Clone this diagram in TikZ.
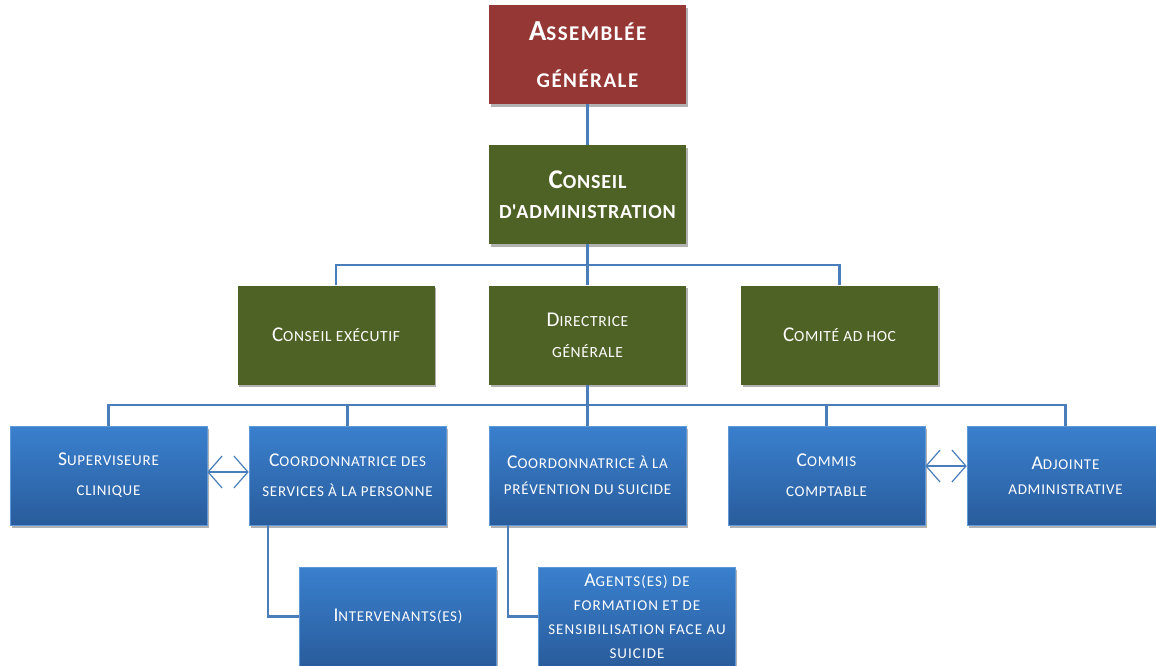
\documentclass[tikz,border=0pt]{standalone}
\usepackage{fontspec}
\setmainfont{Carlito}
\usetikzlibrary{shadows,arrows.meta}
\definecolor{redbox}{RGB}{149,55,53}
\definecolor{olivebox}{RGB}{79,98,37}
\definecolor{bluetop}{RGB}{58,128,206}
\definecolor{bluebot}{RGB}{41,92,156}
\definecolor{linkblue}{RGB}{74,126,187}
\newcommand\IniA[1]{{\fontsize{29}{29}\selectfont #1}}
\newcommand\IniAb[1]{{\fontsize{27}{27}\selectfont #1}}
\newcommand\IniB[1]{{\fontsize{21}{21}\selectfont #1}}
\newcommand\IniC[1]{{\fontsize{19.5}{19.5}\selectfont #1}}
\tikzset{
  box/.style={minimum width=197pt, minimum height=99pt, inner sep=0pt, align=center,
    text=white, drop shadow={shadow xshift=1.5pt, shadow yshift=-2.5pt, opacity=0.3, fill=black}},
  redb/.style={box, fill=redbox, font=\bfseries\fontsize{21}{47}\selectfont\addfontfeature{LetterSpace=7}},
  oliveb/.style={box, fill=olivebox, font=\bfseries\fontsize{20}{30}\selectfont\addfontfeature{LetterSpace=4}},
  oliveS/.style={box, fill=olivebox, font=\fontsize{15.5}{31}\selectfont\addfontfeature{LetterSpace=4}},
  blueb/.style={box, top color=bluetop, bottom color=bluebot, draw=bluetop!80!white, line width=0.6pt,
    font=\fontsize{15}{30}\selectfont\addfontfeature{LetterSpace=5}},
  link/.style={draw=linkblue, line width=2.2pt},
  dbl/.style={draw=linkblue, line width=1.4pt, {Straight Barb[length=14pt,width=32pt,line width=1.2pt]}-{Straight Barb[length=14pt,width=32pt,line width=1.2pt]}}
}
\begin{document}
\begin{tikzpicture}[x=1pt,y=-1pt]
\useasboundingbox[fill=white] (0,0) rectangle (1156,665);
% level 0 / 1
\node[redb] (asm) at (587.5,54.5) {\IniA{A}SSEMBLÉE\\GÉNÉRALE};
\node[oliveb] (ca) at (587.5,194.5) {\IniAb{C}ONSEIL\\D\textquotesingle ADMINISTRATION};
% level 2
\node[oliveS] (ce) at (336,335) {\IniB{C}ONSEIL EXÉCUTIF};
\node[oliveS] (dg) at (587.5,335) {\IniB{D}IRECTRICE\\GÉNÉRALE};
\node[oliveS] (cah) at (839.5,335) {\IniB{C}OMITÉ AD HOC};
% level 3
\node[blueb] (sup) at (108.5,475.5) {\IniC{S}UPERVISEURE\\CLINIQUE};
\node[blueb] (cs) at (347.5,475.5) {\IniC{C}OORDONNATRICE DES\\SERVICES À LA PERSONNE};
\node[blueb, font=\fontsize{15}{26}\selectfont\addfontfeature{LetterSpace=5}] (cp) at (587.5,475.5) {\IniC{C}OORDONNATRICE À LA\\PRÉVENTION DU SUICIDE};
\node[blueb] (cc) at (826.5,475.5) {\IniC{C}OMMIS\\COMPTABLE};
\node[blueb, font=\fontsize{15}{25}\selectfont\addfontfeature{LetterSpace=5}] (adj) at (1065.5,475.5) {\IniC{A}DJOINTE\\ADMINISTRATIVE};
% level 4
\node[blueb] (int) at (398,616.5) {\IniC{I}NTERVENANTS(ES)};
\node[blueb, font=\fontsize{15}{24}\selectfont\addfontfeature{LetterSpace=7}] (ag) at (637,616.5) {\IniC{A}GENTS(ES) DE\\FORMATION ET DE\\SENSIBILISATION FACE AU\\SUICIDE};
% connectors
\coordinate (b1) at (587.5,265);
\coordinate (b2) at (587.5,405);
\draw[link] (asm.south) -- (ca.north);
\draw[link] (ca.south) -- (dg.north);
\draw[link] (ce.north) |- (b1) -| (cah.north);
\draw[link] (dg.south) -- (cp.north);
\draw[link] (sup.north) |- (b2) -| (adj.north);
\draw[link] (cs.north) -- (cs.north |- b2);
\draw[link] (cc.north) -- (cc.north |- b2);
\draw[link] ([xshift=19pt]cs.south west) |- (int.west);
\draw[link] ([xshift=19pt]cp.south west) |- (ag.west);
\draw[dbl] (sup.east |- 0,472) -- (cs.west |- 0,472);
\draw[dbl] (cc.east |- 0,466) -- (adj.west |- 0,466);
\end{tikzpicture}
\end{document}
